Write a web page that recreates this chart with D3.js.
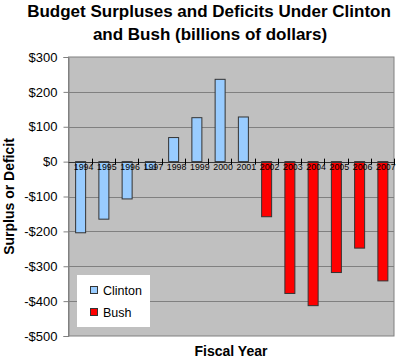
<!DOCTYPE html>
<html><head><meta charset="utf-8">
<script src="https://cdn.jsdelivr.net/npm/d3@7"></script>
<style>body{margin:0;background:#fff}svg{display:block}text{font-family:Arial,"Liberation Sans",sans-serif}</style>
</head><body>
<script>
const years = ["1994","1995","1996","1997","1998","1999","2000","2001","2002","2003","2004","2005","2006","2007"];
const clinton = [-204, -165, -107, -22, 69, 126, 236, 128, null, null, null, null, null, null];
const bush = [null, null, null, null, null, null, null, null, -158, -378, -413, -318, -248, -342];
const yTicks = [300, 200, 100, 0, -100, -200, -300, -400, -500];
const seriesNames = ["Clinton", "Bush"];
const seriesColors = ["#99ccff", "#ff0000"];

const W = 400, H = 359;
const svg = d3.select("body").append("svg").attr("width", W).attr("height", H);
const L = 68.5, R = 394, T = 57, B = 336;

const x = d3.scaleBand().domain(years).range([L, R]).paddingInner(0.57).paddingOuter(0.285);
const y = d3.scaleLinear().domain([-500, 300]).range([B, T]);

// plot background
svg.append("rect").attr("x", L).attr("y", T).attr("width", R - L).attr("height", B - T)
  .attr("fill", "#c0c0c0").attr("stroke", "#808080").attr("stroke-width", 1);

// gridlines
svg.append("g").selectAll("line").data(yTicks.filter(d => d !== 0 && d !== -500 && d !== 300)).join("line")
  .attr("x1", L).attr("x2", R).attr("y1", d => Math.round(y(d)) + 0.5).attr("y2", d => Math.round(y(d)) + 0.5)
  .attr("stroke", "#808080").attr("stroke-width", 1);

// y axis
const yAxis = d3.axisLeft(y).tickValues(yTicks).tickSize(5).tickPadding(6)
  .tickFormat(d => (d < 0 ? "-$" : "$") + Math.abs(d));
const gy = svg.append("g").attr("transform", `translate(${L},0)`).call(yAxis);
gy.select(".domain").attr("stroke", "#808080");
gy.selectAll(".tick line").attr("stroke", "#808080");
gy.selectAll(".tick text").attr("font-size", 13).attr("fill", "#000").style("font-family", "Arial, 'Liberation Sans', sans-serif");

// bars
const allSeries = [clinton, bush];
allSeries.forEach((vals, si) => {
  svg.append("g").selectAll("rect").data(years.map((yr, i) => ({yr, v: vals[i]})).filter(d => d.v !== null)).join("rect")
    .attr("x", d => x(d.yr) + 0.5)
    .attr("width", x.bandwidth())
    .attr("y", d => Math.min(y(d.v), y(0)))
    .attr("height", d => Math.abs(y(d.v) - y(0)))
    .attr("fill", seriesColors[si]).attr("stroke", "#333333").attr("stroke-width", 1);
});

// zero line
svg.append("line").attr("x1", L).attr("x2", R).attr("y1", Math.round(y(0)) + 0.5).attr("y2", Math.round(y(0)) + 0.5)
  .attr("stroke", "#333").attr("stroke-width", 1);

// x ticks at band boundaries
const step = x.step();
const x0 = x(years[0]) - x.paddingOuter() * step;
svg.append("g").selectAll("line").data(years).join("line")
  .attr("x1", (d, i) => Math.round(x0 + step * (i + 1)) + 0.5)
  .attr("x2", (d, i) => Math.round(x0 + step * (i + 1)) + 0.5)
  .attr("y1", y(0) - 3).attr("y2", y(0) + 3)
  .attr("stroke", "#000").attr("stroke-width", 1);

// x labels
svg.append("g").selectAll("text").data(years).join("text")
  .attr("x", d => x(d) + x.bandwidth() / 2 + 3.5)
  .attr("y", y(0) + 8.5)
  .attr("text-anchor", "middle").attr("font-size", 8.8).attr("fill", "#000")
  .text(d => d);

// title
svg.append("text").attr("x", 209).attr("y", 17).attr("font-size", 17).attr("font-weight", "bold")
  .attr("text-anchor", "middle")
  .text("Budget Surpluses and Deficits Under Clinton");
svg.append("text").attr("x", 210).attr("y", 40).attr("font-size", 17).attr("font-weight", "bold")
  .attr("text-anchor", "middle")
  .text("and Bush (billions of dollars)");

// axis titles
svg.append("text").attr("transform", "translate(14,196.5) rotate(-90)")
  .attr("text-anchor", "middle").attr("font-size", 14).attr("font-weight", "bold")
  .text("Surplus or Deficit");
svg.append("text").attr("x", 231).attr("y", 356)
  .attr("text-anchor", "middle").attr("font-size", 14).attr("font-weight", "bold")
  .text("Fiscal Year");

// legend
const lg = svg.append("g");
lg.append("rect").attr("x", 77).attr("y", 275).attr("width", 73).attr("height", 52).attr("fill", "#fff");
seriesNames.forEach((n, i) => {
  const yy = 286 + i * 22;
  lg.append("rect").attr("x", 90.5).attr("y", yy + 0.5).attr("width", 7).attr("height", 7)
    .attr("fill", seriesColors[i]).attr("stroke", "#333").attr("stroke-width", 1);
  lg.append("text").attr("x", 103).attr("y", yy + 9).attr("font-size", 12.5).attr("fill", "#000").text(n);
});
</script>
</body></html>
